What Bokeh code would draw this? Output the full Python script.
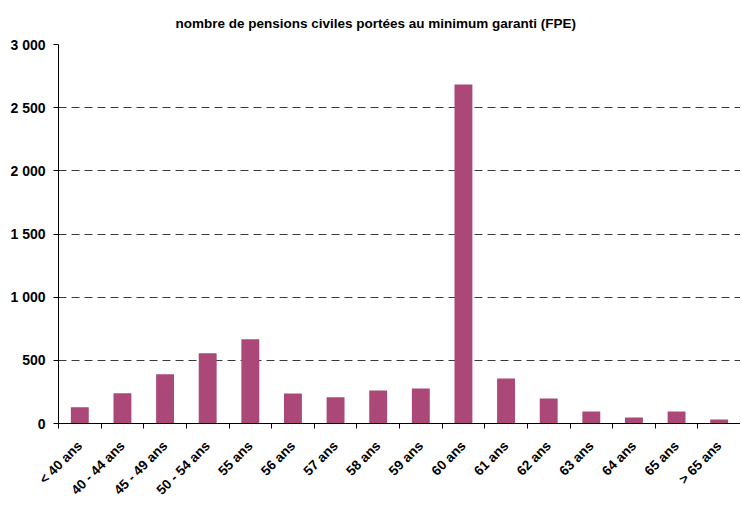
from bokeh.plotting import figure
from bokeh.models import Range1d, FixedTicker
from bokeh.embed import file_html
from bokeh.resources import INLINE

categories = ["< 40 ans", "40 - 44 ans", "45 - 49 ans", "50 - 54 ans", "55 ans",
              "56 ans", "57 ans", "58 ans", "59 ans", "60 ans", "61 ans", "62 ans",
              "63 ans", "64 ans", "65 ans", "> 65 ans"]
values = [128, 240, 390, 557, 667, 238, 207, 262, 278, 2683, 357, 198, 95, 48, 95, 32]
y_ticks = [0, 500, 1000, 1500, 2000, 2500, 3000]
y_tick_labels = ["0", "500", "1 000", "1 500", "2 000", "2 500", "3 000"]
title_text = "nombre de pensions civiles portées au minimum garanti (FPE)"

n = len(categories)
x_pos = [i + 0.5 for i in range(n)]
FONT = "Liberation Sans, Arial, sans-serif"

p = figure(width=740, height=505, output_backend="svg", toolbar_location=None,
           x_range=Range1d(0, n), y_range=Range1d(0, 3000),
           min_border_left=58, min_border_right=0, min_border_top=44, min_border_bottom=80)

p.vbar(x=x_pos, top=values, width=0.42, bottom=0, fill_color="#AB4877", line_color=None)

p.outline_line_color = None
p.xgrid.grid_line_color = None
p.ygrid.ticker = FixedTicker(ticks=y_ticks)
p.ygrid.grid_line_color = "#3a3a3a"
p.ygrid.grid_line_dash = "8 5"
p.ygrid.grid_line_width = 1

# y axis
ya = p.yaxis[0]
ya.ticker = FixedTicker(ticks=y_ticks)
ya.major_label_overrides = {t: l for t, l in zip(y_ticks, y_tick_labels)}
ya.major_tick_in = 0
ya.major_tick_out = 5
ya.minor_tick_line_color = None
ya.axis_line_color = "black"
ya.major_tick_line_color = "black"
ya.major_label_text_font = FONT
ya.major_label_text_font_style = "bold"
ya.major_label_text_font_size = "14px"
ya.major_label_text_color = "black"
ya.major_label_standoff = 8

# x axis: labels at centers, ticks at boundaries (minor ticks)
xa = p.xaxis[0]
xa.ticker = FixedTicker(ticks=x_pos, minor_ticks=list(range(n + 1)))
xa.major_label_overrides = {x: c for x, c in zip(x_pos, categories)}
xa.major_tick_in = 0
xa.major_tick_out = 0
xa.major_tick_line_color = None
xa.minor_tick_in = 0
xa.minor_tick_out = 5
xa.minor_tick_line_color = "black"
xa.axis_line_color = "black"
xa.major_label_orientation = 0.785398
xa.major_label_text_font = FONT
xa.major_label_text_font_style = "bold"
xa.major_label_text_font_size = "13.5px"
xa.major_label_text_color = "black"
xa.major_label_standoff = 15

p.title.text = title_text
p.title.align = "left"
p.title.offset = 117
p.title.text_font = FONT
p.title.text_font_style = "bold"
p.title.text_font_size = "13.5px"
p.title.text_color = "black"
p.title.standoff = 27

open("out.html", "w").write(file_html(p, INLINE))
